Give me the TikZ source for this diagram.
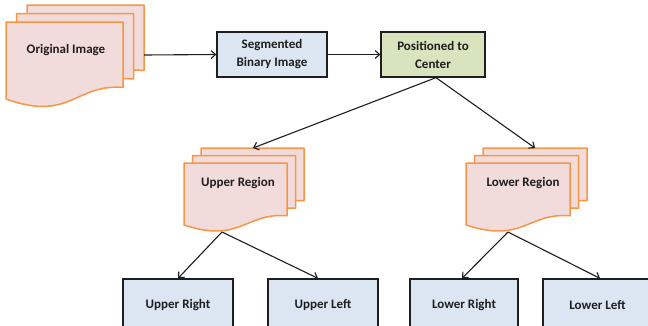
\documentclass[tikz,border=0pt]{standalone}
\usepackage{fontspec}
\setmainfont{Carlito}
\usetikzlibrary{arrows.meta}
\definecolor{docfill}{RGB}{242,220,219}
\definecolor{docline}{RGB}{247,150,70}
\definecolor{bluefill}{RGB}{220,230,242}
\definecolor{greenfill}{RGB}{215,228,189}
\definecolor{ink}{RGB}{30,30,30}

% one sheet with a wavy lower edge: left x, top y, width, depth of left corner
\newcommand\docpage[4]{%
  \filldraw[docsheet] ({#1},{#2}) -- ({#1+#3},{#2}) -- ({#1+#3},{#2+0.85*#4})
    .. controls ({#1+0.59*#3},{#2+0.8*#4}) and ({#1+0.55*#3},{#2+1.3*#4}) .. ({#1},{#2+#4}) -- cycle;}
% three stacked sheets: left x, top y, width, depth, x step, y step
\newcommand\docstack[6]{%
  \docpage{#1+2*#5}{#2-2*#6}{#3}{#4}%
  \docpage{#1+#5}{#2-#6}{#3}{#4}%
  \docpage{#1}{#2}{#3}{#4}}

\tikzset{
  docsheet/.style={fill=docfill, draw=docline, line width=1.5pt, line join=round},
  lbl/.style={font=\fontsize{13}{18}\selectfont\bfseries, text=ink, align=center},
  box/.style={lbl, draw=ink, line width=1.3pt, inner sep=0pt},
  conn/.style={draw=ink, line width=1.1pt, -{Straight Barb[length=4.5pt,width=8pt]}},
}

\begin{document}
\begin{tikzpicture}[x=1pt, y=-1pt]
\useasboundingbox[fill=white] (0,0) rectangle (648,325);

% document stacks
\docstack{6}{22}{117}{77}{10.5}{8.5}
\docstack{184}{163}{103}{62}{8.5}{7.5}
\docstack{466}{163}{104}{62}{8.5}{7.5}

\node[lbl] (origtxt) at (66,50) {Original Image};
\node[lbl] (uptxt) at (238,183) {Upper Region};
\node[lbl] (lowtxt) at (523,183) {Lower Region};

% process boxes
\node[box, fill=bluefill, minimum width=110pt, minimum height=45pt] (seg) at (272,54.5) {Segmented\\Binary Image};
\node[box, fill=greenfill, minimum width=104pt, minimum height=45pt] (pos) at (433,54.5) {Positioned to\\Center};

\node[box, fill=bluefill, minimum width=110pt, minimum height=52pt] (ur) at (178,305) {Upper Right};
\node[box, fill=bluefill, minimum width=110pt, minimum height=52pt] (ul) at (323,305) {Upper Left};
\node[box, fill=bluefill, minimum width=108pt, minimum height=52pt] (lr) at (464,305) {Lower Right};
\node[box, fill=bluefill, minimum width=109pt, minimum height=52pt] (ll) at (597.5,305) {Lower Left};

% connection points on the sheet stacks
\coordinate (orig-out) at (144,55);
\coordinate (up-in) at (253,148);
\coordinate (low-in) at (535,148);
\coordinate (up-out) at (222,232);
\coordinate (low-out) at (508,232);

% connectors
\draw[conn] (orig-out) -- (seg.west);
\draw[conn] (seg.east) -- (pos.west);
\draw[conn] ([xshift=3pt]pos.south) -- (up-in);
\draw[conn] ([xshift=3pt]pos.south) -- (low-in);
\draw[conn] (up-out) -- (ur.north);
\draw[conn] (up-out) -- ([xshift=-5pt]ul.north);
\draw[conn] (low-out) -- ([xshift=-2pt]lr.north);
\draw[conn] (low-out) -- ([xshift=2.5pt]ll.north);
\end{tikzpicture}
\end{document}
